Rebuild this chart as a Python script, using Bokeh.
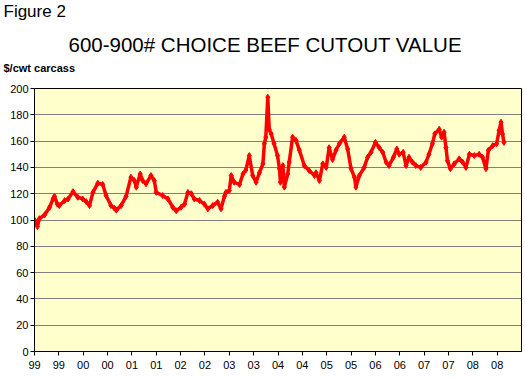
from bokeh.plotting import figure
from bokeh.models import Range1d, FixedTicker, Title
from bokeh.embed import file_html
from bokeh.resources import INLINE

# Weekly cutout values (decimal year, $/cwt)
years = [1999.00, 1999.06, 1999.10, 1999.21, 1999.31, 1999.38, 1999.41, 1999.47, 1999.51, 1999.62,
         1999.69, 1999.79, 1999.89, 1999.99, 2000.06, 2000.13, 2000.20, 2000.30, 2000.40, 2000.47,
         2000.57, 2000.64, 2000.68, 2000.78, 2000.88, 2000.98, 2001.05, 2001.09, 2001.17, 2001.22,
         2001.29, 2001.39, 2001.46, 2001.50, 2001.63, 2001.74, 2001.84, 2001.91, 2002.01, 2002.08,
         2002.15, 2002.22, 2002.28, 2002.39, 2002.49, 2002.56, 2002.66, 2002.76, 2002.83, 2002.90,
         2002.93, 2003.00, 2003.04, 2003.10, 2003.21, 2003.28, 2003.34, 2003.41, 2003.48, 2003.55,
         2003.62, 2003.69, 2003.72, 2003.75, 2003.79, 2003.82, 2003.86, 2003.92, 2003.99, 2004.03,
         2004.05, 2004.10, 2004.13, 2004.20, 2004.23, 2004.30, 2004.37, 2004.44, 2004.54, 2004.64,
         2004.75, 2004.78, 2004.85, 2004.92, 2004.99, 2005.05, 2005.12, 2005.19, 2005.26, 2005.36,
         2005.43, 2005.50, 2005.57, 2005.60, 2005.67, 2005.77, 2005.84, 2005.91, 2006.00, 2006.08,
         2006.15, 2006.22, 2006.28, 2006.37, 2006.44, 2006.49, 2006.57, 2006.63, 2006.69, 2006.76,
         2006.83, 2006.93, 2007.04, 2007.10, 2007.17, 2007.22, 2007.31, 2007.36, 2007.41, 2007.45,
         2007.48, 2007.54, 2007.62, 2007.72, 2007.79, 2007.86, 2007.93, 2008.03, 2008.13, 2008.20,
         2008.27, 2008.32, 2008.41, 2008.49, 2008.54, 2008.58, 2008.61, 2008.64]
values = [100.0, 95.0, 101.0, 104.0, 109.7, 116.0, 118.0, 112.0, 111.0, 114.8,
          116.0, 121.5, 117.3, 116.0, 114.0, 111.0, 121.0, 128.0, 127.0, 118.6,
          111.0, 109.0, 107.5, 111.0, 118.0, 132.5, 130.0, 125.0, 135.0, 130.0,
          127.5, 133.8, 130.0, 121.0, 118.6, 116.0, 109.7, 107.0, 109.7, 112.0,
          121.0, 120.0, 116.0, 114.8, 112.0, 108.5, 111.0, 113.5, 108.5, 118.0,
          121.0, 122.4, 133.8, 128.7, 127.0, 135.0, 138.0, 149.0, 133.8, 128.7,
          136.0, 142.7, 158.0, 163.0, 193.4, 169.0, 165.5, 158.0, 149.0, 139.0,
          128.7, 141.4, 125.0, 135.0, 144.0, 163.0, 160.5, 153.0, 141.4, 137.6,
          133.8, 136.0, 130.0, 142.7, 140.0, 155.0, 146.0, 153.0, 158.0, 163.0,
          154.0, 139.0, 132.5, 125.0, 133.8, 140.0, 147.7, 151.5, 159.0, 155.0,
          151.5, 144.0, 141.4, 147.7, 154.0, 150.0, 151.5, 141.4, 147.7, 144.0,
          141.4, 140.0, 144.0, 150.0, 158.0, 165.5, 169.0, 163.0, 166.8, 155.0,
          145.0, 139.0, 142.7, 146.5, 144.0, 140.0, 150.0, 149.0, 150.0, 147.7,
          139.0, 153.0, 156.6, 158.0, 168.0, 174.4, 165.5, 159.0]

tick_years = [1999.0 + 0.5 * i for i in range(20)]
tick_labels = ["99", "99", "00", "00", "01", "01", "02", "02", "03", "03",
               "04", "04", "05", "05", "06", "06", "07", "07", "08", "08"]
y_ticks = list(range(0, 201, 20))

FONT = "Liberation Sans"

p = figure(width=525, height=378, output_backend="svg", toolbar_location=None, title=None,
           x_range=Range1d(1999, 2009), y_range=Range1d(0, 200),
           min_border_left=34, min_border_right=4, min_border_top=88, min_border_bottom=27)

p.border_fill_color = "white"
p.background_fill_color = "#FFFFCC"
p.outline_line_color = "black"
p.outline_line_width = 1

p.xgrid.visible = False
p.ygrid.grid_line_color = "#808080"
p.ygrid.grid_line_width = 1
p.ygrid.ticker = FixedTicker(ticks=y_ticks)

p.yaxis.ticker = FixedTicker(ticks=y_ticks)
p.yaxis.major_tick_out = 4
p.yaxis.major_tick_in = 0
p.yaxis.minor_tick_line_color = None
p.yaxis.axis_line_color = "black"
p.yaxis.major_tick_line_color = "black"
p.yaxis.major_label_text_font = FONT
p.yaxis.major_label_text_font_size = "11px"
p.yaxis.major_label_text_color = "black"
p.yaxis.major_label_standoff = 2

p.xaxis.ticker = FixedTicker(ticks=tick_years)
p.xaxis.major_label_overrides = {t: l for t, l in zip(tick_years, tick_labels)}
p.xaxis.major_tick_out = 4
p.xaxis.major_tick_in = 0
p.xaxis.minor_tick_line_color = None
p.xaxis.axis_line_color = "black"
p.xaxis.major_tick_line_color = "black"
p.xaxis.major_label_text_font = FONT
p.xaxis.major_label_text_font_size = "11px"
p.xaxis.major_label_text_color = "black"
p.xaxis.major_label_standoff = 5

p.line(years, values, line_color="#FF0000", line_width=3.5)
p.scatter(years, values, marker="diamond", size=6, fill_color="#FF0000", line_color="#FF0000")

# Titles stacked above the frame (first added is nearest the frame)
p.add_layout(Title(text=" ", align="left", text_font=FONT, text_font_size="1px",
                   standoff=10), "above")
p.add_layout(Title(text="$/cwt carcass", align="left", offset=-31, vertical_align="top",
                   text_font=FONT, text_font_size="11px", text_font_style="bold",
                   text_color="black", standoff=0), "above")
p.add_layout(Title(text="600-900# CHOICE BEEF CUTOUT VALUE", align="left", offset=34,
                   vertical_align="bottom",
                   text_font=FONT, text_font_size="20.5px", text_font_style="normal",
                   text_color="black", standoff=12), "above")
p.add_layout(Title(text="Figure 2", align="left", offset=-31, vertical_align="top",
                   text_font=FONT, text_font_size="17px", text_font_style="normal",
                   text_color="black", standoff=3), "above")

open("out.html", "w").write(file_html(p, INLINE))
